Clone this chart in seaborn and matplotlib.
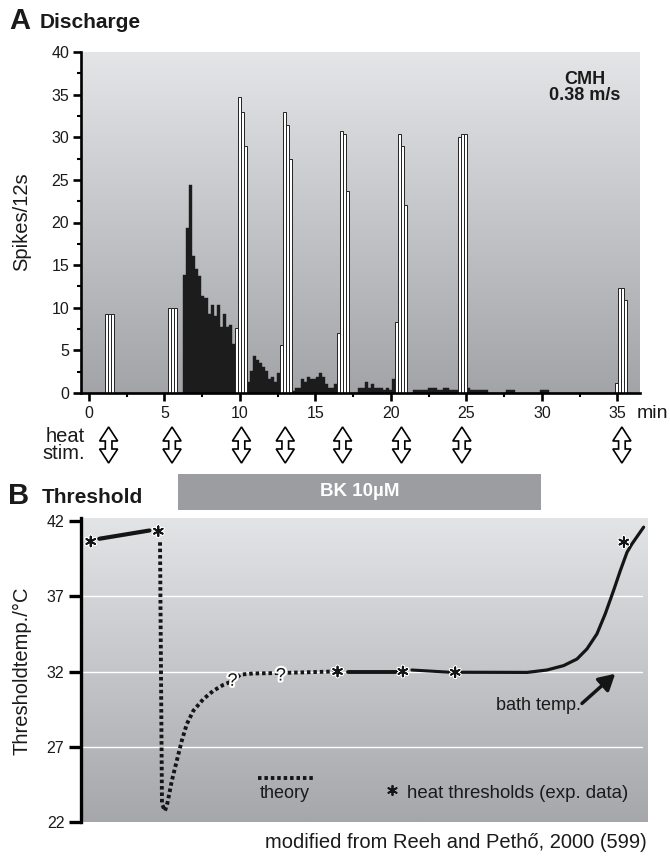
import numpy as np
import pandas as pd
import matplotlib
matplotlib.use("Agg")
import matplotlib.pyplot as plt
import seaborn as sns
from matplotlib.patches import Polygon, Rectangle
import matplotlib.patheffects as pe
from matplotlib.transforms import blended_transform_factory

# ---------------- data ----------------
BIN = 0.2  # min (12 s bins)

heat_starts = [1.05, 5.25, 9.65, 12.65, 16.45, 20.25, 24.45, 34.85]
heat_counts = [
    [9.3, 9.3, 9.3],
    [10.0, 10.0, 10.0],
    [7.6, 34.7, 33.0, 29.0],
    [5.6, 33.0, 31.4, 27.4],
    [7.0, 30.7, 30.4, 23.7],
    [8.3, 30.4, 29.0, 22.0],
    [30.0, 30.4, 30.4],
    [1.2, 12.3, 12.3, 10.9],
]

ongoing_starts = [6.25, 10.45, 13.45, 17.25, 21.05, 25.05, 27.65, 29.85]
ongoing_counts = [
    [13.9, 19.3, 24.4, 16.1, 14.6, 13.7, 11.4, 11.1, 9.3, 10.3, 9.0, 10.3, 7.7, 9.3, 7.7, 8.0, 5.7],
    [1.3, 2.6, 4.3, 3.9, 3.5, 3.0, 2.6, 1.7, 1.9, 1.3, 2.3],
    [0.2, 0.6, 0.6, 1.6, 1.3, 1.9, 1.6, 1.6, 1.9, 2.3, 1.9, 1.0, 0.6, 0.6, 1.0],
    [0.0, 0.0, 0.0, 0.6, 0.6, 1.3, 0.6, 1.0, 0.6, 0.6, 0.6, 0.3, 0.6, 0.3, 1.6],
    [0.0, 0.0, 0.3, 0.3, 0.3, 0.3, 0.3, 0.6, 0.6, 0.6, 0.3, 0.3, 0.6, 0.6, 0.3, 0.3, 0.3],
    [0.6, 0.3, 0.3, 0.3, 0.3, 0.3, 0.3],
    [0.3, 0.3, 0.3],
    [0.3, 0.3, 0.3],
]

heat_stim_times = [1.3, 5.5, 10.1, 13.0, 16.8, 20.7, 24.7, 35.3]

# Panel B
thresh_t = [0.11, 4.59, 16.45, 20.77, 24.24, 35.4]
thresh_T = [40.64, 41.32, 32.0, 32.0, 31.95, 40.6]

pre_t = [0.68, 4.0]
pre_T = [40.82, 41.37]

theory_t = [4.70, 4.83, 5.03, 5.2, 5.48, 5.81, 6.14, 6.47, 6.91, 7.57, 8.23, 8.9, 9.56, 10.0, 10.89, 12.65, 16.2]
theory_T = [40.59, 23.2, 22.74, 23.3, 24.73, 26.07, 27.4, 28.5, 29.4, 30.17, 30.72, 31.12, 31.39, 31.79, 31.87, 31.9, 32.0]

bath1_t = [17.17, 20.38]
bath1_T = [32.0, 32.0]
bath2_t = [21.37, 23.9]
bath2_T = [32.1, 31.95]
bath3_t = [24.6, 29.0, 30.31, 31.41, 32.3, 32.96, 33.62, 34.17, 34.72, 35.17, 35.61, 35.94, 36.71]
bath3_T = [31.95, 31.94, 32.1, 32.39, 32.83, 33.5, 34.5, 35.83, 37.38, 38.71, 39.92, 40.48, 41.59]

question_t = [9.5, 12.7]
question_T = [31.35, 31.7]

bk_start, bk_end = 5.9, 29.9

# ---------------- build tables ----------------
def runs_to_df(starts, counts):
    rows = []
    for s, cs in zip(starts, counts):
        for i, c in enumerate(cs):
            rows.append((s + BIN * i + BIN / 2, c))
    return pd.DataFrame(rows, columns=["t", "count"])

df_heat = runs_to_df(heat_starts, heat_counts)
df_ong = runs_to_df(ongoing_starts, ongoing_counts)

# ---------------- style ----------------
sns.set_theme(style="white")
plt.rcParams["font.family"] = ["Liberation Sans", "DejaVu Sans"]
plt.rcParams["axes.facecolor"] = "none"

W, H = 670, 859
fig = plt.figure(figsize=(W / 100, H / 100), dpi=100)

def fx(px):
    return px / W

def fy(py):
    return 1 - py / H

axA = fig.add_axes([fx(81), fy(393), fx(640) - fx(81), fy(52) - fy(393)])
axB = fig.add_axes([fx(81), fy(822), fx(648) - fx(81), fy(518) - fy(822)])

def gradient(ax, top, bottom):
    top = np.array(top) / 255.0
    bottom = np.array(bottom) / 255.0
    g = np.linspace(0, 1, 256)[:, None, None]
    img = top[None, None, :] * (1 - g) + bottom[None, None, :] * g
    ax.imshow(img, extent=(0, 1, 0, 1), transform=ax.transAxes, aspect="auto",
              zorder=0, interpolation="bilinear")

TXT = "#1a1a1a"

# ---------------- Panel A ----------------
gradient(axA, (228, 229, 231), (163, 164, 168))
sns.histplot(data=df_ong, x="t", weights="count", binwidth=BIN, binrange=(0.05, 36.05),
             color="#1c1c1c", edgecolor="#1c1c1c", linewidth=0.3, alpha=1, ax=axA, zorder=2)
sns.histplot(data=df_heat, x="t", weights="count", binwidth=BIN, binrange=(0.05, 36.05),
             color="white", edgecolor="#222222", linewidth=0.7, alpha=1, ax=axA, zorder=3)
axA.set_xlim(-0.53, 36.5)
axA.set_ylim(0, 40)
axA.set_xlabel("")
axA.set_ylabel("")
axA.set_xticks(np.arange(0, 36, 5))
axA.set_xticks(np.arange(2.5, 33, 5), minor=True)
axA.set_yticks(np.arange(0, 41, 5))
axA.set_yticks(np.arange(2.5, 40, 5), minor=True)
for s in ["top", "right"]:
    axA.spines[s].set_visible(False)
for s in ["left", "bottom"]:
    axA.spines[s].set_linewidth(1.9)
    axA.spines[s].set_color("black")
    axA.spines[s].set_zorder(5)
axA.tick_params(which="major", bottom=True, left=True, direction="out", length=5.5,
                width=1.9, labelsize=11.5, color="black", labelcolor=TXT, pad=3)
axA.tick_params(axis="x", which="major", pad=4)
axA.tick_params(which="minor", bottom=True, left=True, direction="out", length=3,
                width=1.5, color="black")

fig.text(fx(9), fy(21), "A", fontsize=21, weight="bold", ha="left", va="center", color=TXT)
fig.text(fx(40), fy(23), "Discharge", fontsize=15, weight="bold", ha="left", va="center", color=TXT)
fig.text(fx(585), fy(79), "CMH", fontsize=13, weight="bold", ha="center", va="center", color=TXT)
fig.text(fx(585), fy(96), "0.38 m/s", fontsize=13, weight="bold", ha="center", va="center", color=TXT)
fig.text(fx(22), fy(222), "Spikes/12s", rotation=90, fontsize=14.5, ha="center", va="center", color=TXT)
fig.text(fx(637), fy(413), "min", fontsize=14, ha="left", va="center", color=TXT)
fig.text(fx(85), fy(445), "heat\nstim.", fontsize=14.5, ha="right", va="center",
         multialignment="right", linespacing=0.9, color=TXT)

# heat stimulus arrows (hollow double-headed)
trans = blended_transform_factory(axA.transData, fig.transFigure)
hw, sw = 0.6, 0.22
ytop, ybot, hl = fy(427), fy(463), 14 / H
for t in heat_stim_times:
    verts = [(t, ytop), (t + hw, ytop - hl), (t + sw, ytop - hl), (t + sw, ybot + hl),
             (t + hw, ybot + hl), (t, ybot), (t - hw, ybot + hl), (t - sw, ybot + hl),
             (t - sw, ytop - hl), (t - hw, ytop - hl)]
    fig.add_artist(Polygon(verts, closed=True, fc="white", ec="black", lw=1.2,
                           transform=trans, clip_on=False))

# ---------------- Panel B ----------------
gradient(axB, (227, 228, 230), (166, 167, 171))
for yv in [27, 32, 37]:
    axB.axhline(yv, xmin=0, xmax=0.99, color="white", lw=1.0, zorder=1)

sns.lineplot(x=theory_t, y=theory_T, sort=False, estimator=None, errorbar=None,
             color="#151515", lw=2.8, linestyle=(0, (0.9, 0.75)), ax=axB, zorder=3)
sns.lineplot(x=pre_t, y=pre_T, sort=False, estimator=None, errorbar=None,
             color="#151515", lw=3.0, ax=axB, zorder=3)
for bt, bT, lw in [(bath1_t, bath1_T, 2.8), (bath2_t, bath2_T, 2.2), (bath3_t, bath3_T, 2.3)]:
    sns.lineplot(x=bt, y=bT, sort=False, estimator=None, errorbar=None,
                 color="#151515", lw=lw, ax=axB, zorder=3)

halo = [pe.Stroke(linewidth=2.8, foreground="white"), pe.Normal()]
sns.scatterplot(x=thresh_t, y=thresh_T, marker=(6, 2, 0), s=50, color="#151515",
                edgecolor="#151515", linewidth=1.3, ax=axB, zorder=5, path_effects=halo)
for qt, qT in zip(question_t, question_T):
    axB.text(qt, qT, "?", fontsize=13, ha="center", va="center", color="#151515",
             zorder=6, path_effects=[pe.withStroke(linewidth=3, foreground="white")])

axB.set_xlim(-0.53, 37.0)
axB.set_ylim(22.07, 42.2)
axB.set_xticks([])
axB.set_yticks([22, 27, 32, 37, 42])
axB.set_xlabel("")
axB.set_ylabel("")
for s in ["top", "right", "bottom"]:
    axB.spines[s].set_visible(False)
axB.spines["left"].set_linewidth(2.4)
axB.spines["left"].set_color("black")
axB.tick_params(axis="y", left=True, direction="out", length=9, width=2.4,
                labelsize=11.5, color="black", labelcolor=TXT, pad=3)

# BK bar
tB = blended_transform_factory(axB.transData, axB.transAxes)
axB.add_patch(Rectangle((bk_start, (822 - 510) / 304), bk_end - bk_start, 36 / 304,
                        transform=tB, fc="#9c9da0", ec="none", clip_on=False))
axB.text((bk_start + bk_end) / 2, (822 - 492) / 304, "BK 10µM", transform=tB,
         ha="center", va="center", fontsize=13.5, weight="bold", color="white")

fig.text(fx(8), fy(496), "B", fontsize=21, weight="bold", ha="left", va="center", color=TXT)
fig.text(fx(42), fy(497), "Threshold", fontsize=15, weight="bold", ha="left", va="center", color=TXT)
fig.text(fx(22), fy(671), "Thresholdtemp./°C", rotation=90, fontsize=14.5, ha="center",
         va="center", color=TXT)

# bath temp annotation
axB.annotate("", xy=(34.83, 31.85), xytext=(32.63, 29.88),
             arrowprops=dict(arrowstyle="-|>,head_length=0.8,head_width=0.45", lw=2.5,
                             color="#151515", shrinkA=0, shrinkB=0), zorder=4)
axB.text(29.74, 29.73, "bath temp.", ha="center", va="center", fontsize=13, color=TXT)

# legend
axB.plot([0.312, 0.413], [0.145, 0.145], transform=axB.transAxes, color="#151515",
         lw=2.8, linestyle=(0, (0.9, 0.75)))
axB.text(0.36, 0.095, "theory", transform=axB.transAxes, ha="center", va="center",
         fontsize=13, color=TXT)
axB.scatter([0.549], [0.105], transform=axB.transAxes, marker=(6, 2, 0), s=45,
            color="#151515", linewidth=1.3)
axB.text(0.575, 0.095, "heat thresholds (exp. data)", transform=axB.transAxes,
         ha="left", va="center", fontsize=13.4, color=TXT)

fig.text(fx(647), fy(842), "modified from Reeh and Pethő, 2000 (599)", ha="right",
         va="center", fontsize=14.5, color=TXT)

fig.savefig("out.png", dpi=100, facecolor="white")
